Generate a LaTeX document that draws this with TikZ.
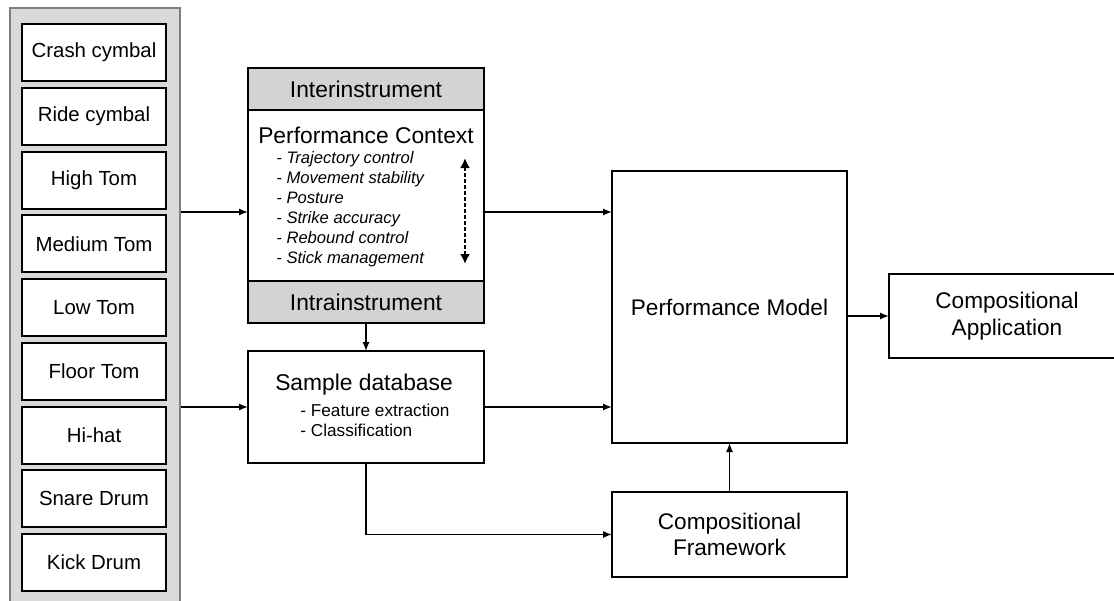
\documentclass[tikz,border=0pt]{standalone}
\usepackage{fontspec}
\setmainfont{Liberation Sans}
\usetikzlibrary{arrows.meta}
\definecolor{panelgray}{HTML}{DADADA}
\definecolor{panelline}{HTML}{7F7F7F}
\definecolor{headgray}{HTML}{D3D3D3}
\newcommand{\drum}[3]{\node[drumbox] (#1) at (94,#2) {#3};}
\tikzset{
  box/.style={draw, line width=1pt, inner sep=0pt, outer sep=0pt, align=center},
  drumbox/.style={box, fill=white, minimum width=72pt, minimum height=28.5pt, font=\fontsize{10.2}{12}\selectfont},
  head/.style={box, fill=headgray, minimum width=118pt, minimum height=21pt, font=\fontsize{11.4}{13}\selectfont},
  bigbox/.style={box, font=\fontsize{11.3}{13.3}\selectfont},
  title/.style={inner sep=0pt, font=\fontsize{11.4}{13.4}\selectfont},
  arr/.style={-{Latex[length=4.5pt,width=3.6pt]}, line width=0.8pt},
}
\begin{document}
\begin{tikzpicture}[x=0.5pt, y=-0.5pt]
    \clip (0,0) rectangle (1114,600);
    % instrument panel
    \node[draw=panelline, fill=panelgray, line width=0.8pt, inner sep=0pt,
          minimum width=85pt, minimum height=303pt] (panel) at (95,311) {};
    \drum{crash}{52.5}{Crash cymbal}
    \drum{ride}{116.25}{Ride cymbal}
    \drum{hightom}{180}{High Tom}
    \drum{midtom}{243.75}{Medium Tom}
    \drum{lowtom}{307.5}{Low Tom}
    \drum{floortom}{371.25}{Floor Tom}
    \drum{hihat}{435}{Hi-hat}
    \drum{snare}{498.75}{Snare Drum}
    \drum{kick}{562.5}{Kick Drum}
    % performance context
    \node[box, minimum width=118pt, minimum height=127.5pt] (ctx) at (366,195.5) {};
    \node[head, anchor=north] (inter) at (ctx.north) {Interinstrument};
    \node[head, anchor=south] (intra) at (ctx.south) {Intrainstrument};
    \node[title] (pctx) at (366,135) {Performance Context};
    \node[anchor=west, align=left, inner sep=0pt, font=\fontsize{8.3}{10}\selectfont\itshape] (skills) at (276,209)
        {- Trajectory control\\- Movement stability\\- Posture\\- Strike accuracy\\- Rebound control\\- Stick management};
    \coordinate (rangetop) at (465,158);
    \coordinate (rangebot) at (465,264);
    \draw[{Latex[length=5pt,width=5pt]}-{Latex[length=5pt,width=5pt]}, line width=1.4pt,
          dash pattern=on 2pt off 1pt] (rangetop) -- (rangebot);
    % sample database
    \node[box, minimum width=118pt, minimum height=56pt] (sdb) at (366,407) {};
    \node[title] (sdbtitle) at (364,385) {Sample database};
    \node[anchor=west, align=left, inner sep=0pt, font=\fontsize{8.6}{9.7}\selectfont] (sdblist) at (300,420.5)
        {- Feature extraction\\- Classification};
    % right side
    \node[bigbox, minimum width=117.5pt, minimum height=136pt] (pm) at (729.5,307) {Performance Model};
    \node[bigbox, minimum width=118pt, minimum height=42pt] (ca) at (1007,316) {Compositional\\Application};
    \node[bigbox, minimum width=117.5pt, minimum height=42.5pt] (cf) at (729.5,534.5) {Compositional\\Framework};
    % connectors
    \coordinate (rowA) at (0,212);
    \coordinate (rowB) at (0,407);
    \draw[arr] (panel.east |- rowA) -- (ctx.west |- rowA);
    \draw[arr] (panel.east |- rowB) -- (sdb.west |- rowB);
    \draw[arr] (ctx.east |- rowA) -- (pm.west |- rowA);
    \draw[arr] (sdb.east |- rowB) -- (pm.west |- rowB);
    \draw[arr] (intra.south) -- (sdb.north);
    \draw[arr] (sdb.south) |- (cf.west);
    \draw[arr] (cf.north) -- (pm.south);
    \draw[arr] (pm.east |- ca.west) -- (ca.west);
\end{tikzpicture}
\end{document}
